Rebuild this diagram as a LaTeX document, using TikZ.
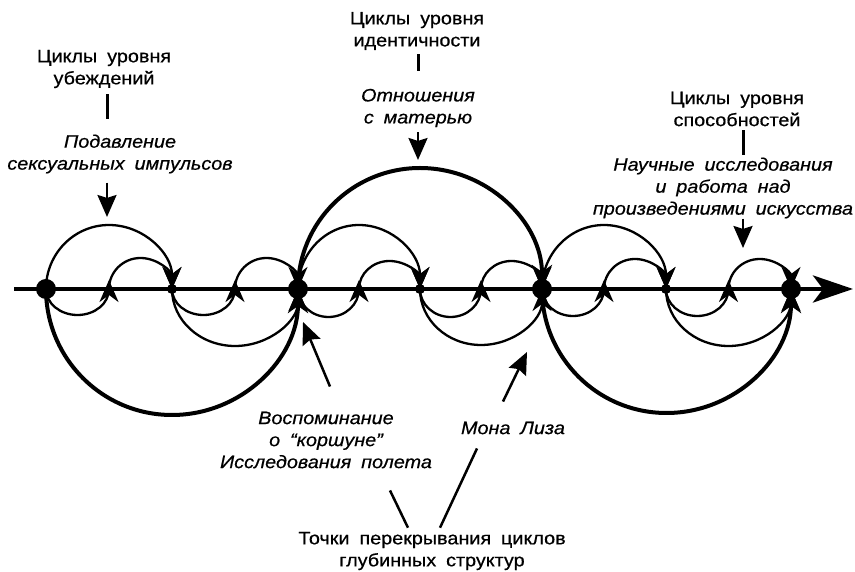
\documentclass[tikz,border=0pt]{standalone}
\usepackage{fontspec}
\setmainfont{Liberation Sans}[WordSpace=1.8,FakeStretch=1.1,FakeBold=0.6]
\usetikzlibrary{arrows.meta}

\tikzset{
  wave/.style={line width=2.3pt, -{Stealth[length=22pt,width=19pt,inset=7pt]}},
  bigwave/.style={line width=4pt, -{Stealth[length=24pt,width=20pt,inset=7pt]}},
  lvl/.style={align=center, inner sep=0pt, font=\fontsize{18}{22}\selectfont},
  case/.style={lvl, font=\fontsize{18}{22}\selectfont\itshape},
  bar/.style={line width=3pt},
  ptr/.style={line width=2.5pt, -{Stealth[length=22pt,width=19pt,inset=3pt]}},
}

\begin{document}
\begin{tikzpicture}[x=1pt,y=1pt]
\useasboundingbox (0,-283) rectangle (855,289);

%% small loops
\draw[wave] (46,0) arc[start angle=180,end angle=360,x radius=31.5pt,y radius=26pt] -- ++(0,9);
\draw[wave] (109,0) arc[start angle=180,end angle=0,x radius=31.5pt,y radius=31pt];
\draw[wave] (172,0) arc[start angle=180,end angle=360,x radius=31.5pt,y radius=26pt] -- ++(0,9);
\draw[wave] (235,0) arc[start angle=180,end angle=0,x radius=31.5pt,y radius=31pt];

\draw[wave] (298,0) arc[start angle=180,end angle=360,x radius=30.5pt,y radius=28pt] -- ++(0,9);
\draw[wave] (359,0) arc[start angle=180,end angle=0,x radius=30.5pt,y radius=28pt];
\draw[wave] (420,0) arc[start angle=180,end angle=360,x radius=30.5pt,y radius=28pt] -- ++(0,9);
\draw[wave] (481,0) arc[start angle=180,end angle=0,x radius=30.5pt,y radius=28pt];

\draw[wave] (542,0) arc[start angle=180,end angle=360,x radius=31pt,y radius=27pt] -- ++(0,9);
\draw[wave] (604,0) arc[start angle=180,end angle=0,x radius=31pt,y radius=30pt];
\draw[wave] (666,0) arc[start angle=180,end angle=360,x radius=31.25pt,y radius=27pt] -- ++(0,9);
\draw[wave] (728.5,0) arc[start angle=180,end angle=0,x radius=31.25pt,y radius=30pt];

%% middle loops
\draw[wave] (46,0) arc[start angle=180,end angle=0,x radius=63pt,y radius=64pt];
\draw[wave] (172,0) arc[start angle=180,end angle=360,x radius=63pt,y radius=57pt];
\draw[wave] (298,0) arc[start angle=180,end angle=0,x radius=61pt,y radius=64pt];
\draw[wave] (420,0) arc[start angle=180,end angle=360,x radius=61pt,y radius=56pt];
\draw[wave] (542,0) arc[start angle=180,end angle=0,x radius=62pt,y radius=64pt];
\draw[wave] (666,0) arc[start angle=180,end angle=360,x radius=62.5pt,y radius=57pt];

%% deep loops
\draw[bigwave] (46,0) arc[start angle=180,end angle=360,x radius=126pt,y radius=126pt];
\draw[bigwave] (298,0) arc[start angle=180,end angle=0,x radius=122pt,y radius=121pt];
\draw[bigwave] (542,0) arc[start angle=180,end angle=360,x radius=124.5pt,y radius=124pt];

%% time line
\draw[line width=4.5pt,-{Stealth[length=40pt,width=27pt,inset=10pt]}] (14,0) -- (853,0);
\fill (46,0) circle (10pt);
\fill (298,0) circle (10pt);
\fill (542,0) circle (10pt);
\fill (791,0) circle (10pt);
\fill (172,0) circle (5pt);
\fill (420,0) circle (5pt);
\fill (666,0) circle (5pt);

%% labels on top
\node[lvl] (ubezh) at (104,220) {Циклы уровня\\убеждений};
\node[case] (podav) at (120,135) {Подавление\\сексуальных импульсов};
\coordinate (podtip) at (107,72);
\draw[bar, shorten <=6pt, shorten >=15pt] (ubezh.south -| podtip) -- (podav.north -| podtip);
\draw[ptr, shorten <=9pt] (podav.south -| podtip) -- (podtip);

\node[lvl] (ident) at (417,258) {Циклы уровня\\идентичности};
\node[case] (mater) at (418,181) {Отношения\\с матерью};
\coordinate (mattip) at (418,129);
\draw[bar, shorten <=4pt, shorten >=18pt] (ident.south -| mattip) -- (mater.north -| mattip);
\draw[ptr, shorten <=5pt] (mater.south -| mattip) -- (mattip);

\node[lvl] (sposob) at (737,180) {Циклы уровня\\способностей};
\node[case] (nauka) at (723,101) {Научные исследования\\и работа над\\произведениями искусства};
\coordinate (nautip) at (743,41);
\draw[bar, shorten <=4pt, shorten >=2pt] (sposob.south -| nautip) -- (nauka.north -| nautip);
\draw[ptr] (nauka.south -| nautip) -- (nautip);

%% labels below
\node[case] (vospom) at (326,-151) {Воспоминание\\о “коршуне”\\Исследования полета};
\coordinate (vostip) at (303,-33);
\draw[ptr] ([shift={(4,25)}]vospom.north) -- (vostip);

\node[case] (mona) at (513,-139) {Мона Лиза};
\coordinate (monatip) at (527,-63);
\draw[ptr] ([shift={(-10,20)}]mona.north) -- (monatip);

\node[lvl] (tochki) at (432,-262) {Точки перекрывания циклов\\глубинных структур};
\draw[line width=2.5pt] ([shift={(-24,4)}]tochki.north) -- ([shift={(64,-22)}]vospom.south);
\draw[line width=2.5pt] ([shift={(8,4)}]tochki.north) -- ([shift={(-36,-14)}]mona.south);
\end{tikzpicture}
\end{document}
